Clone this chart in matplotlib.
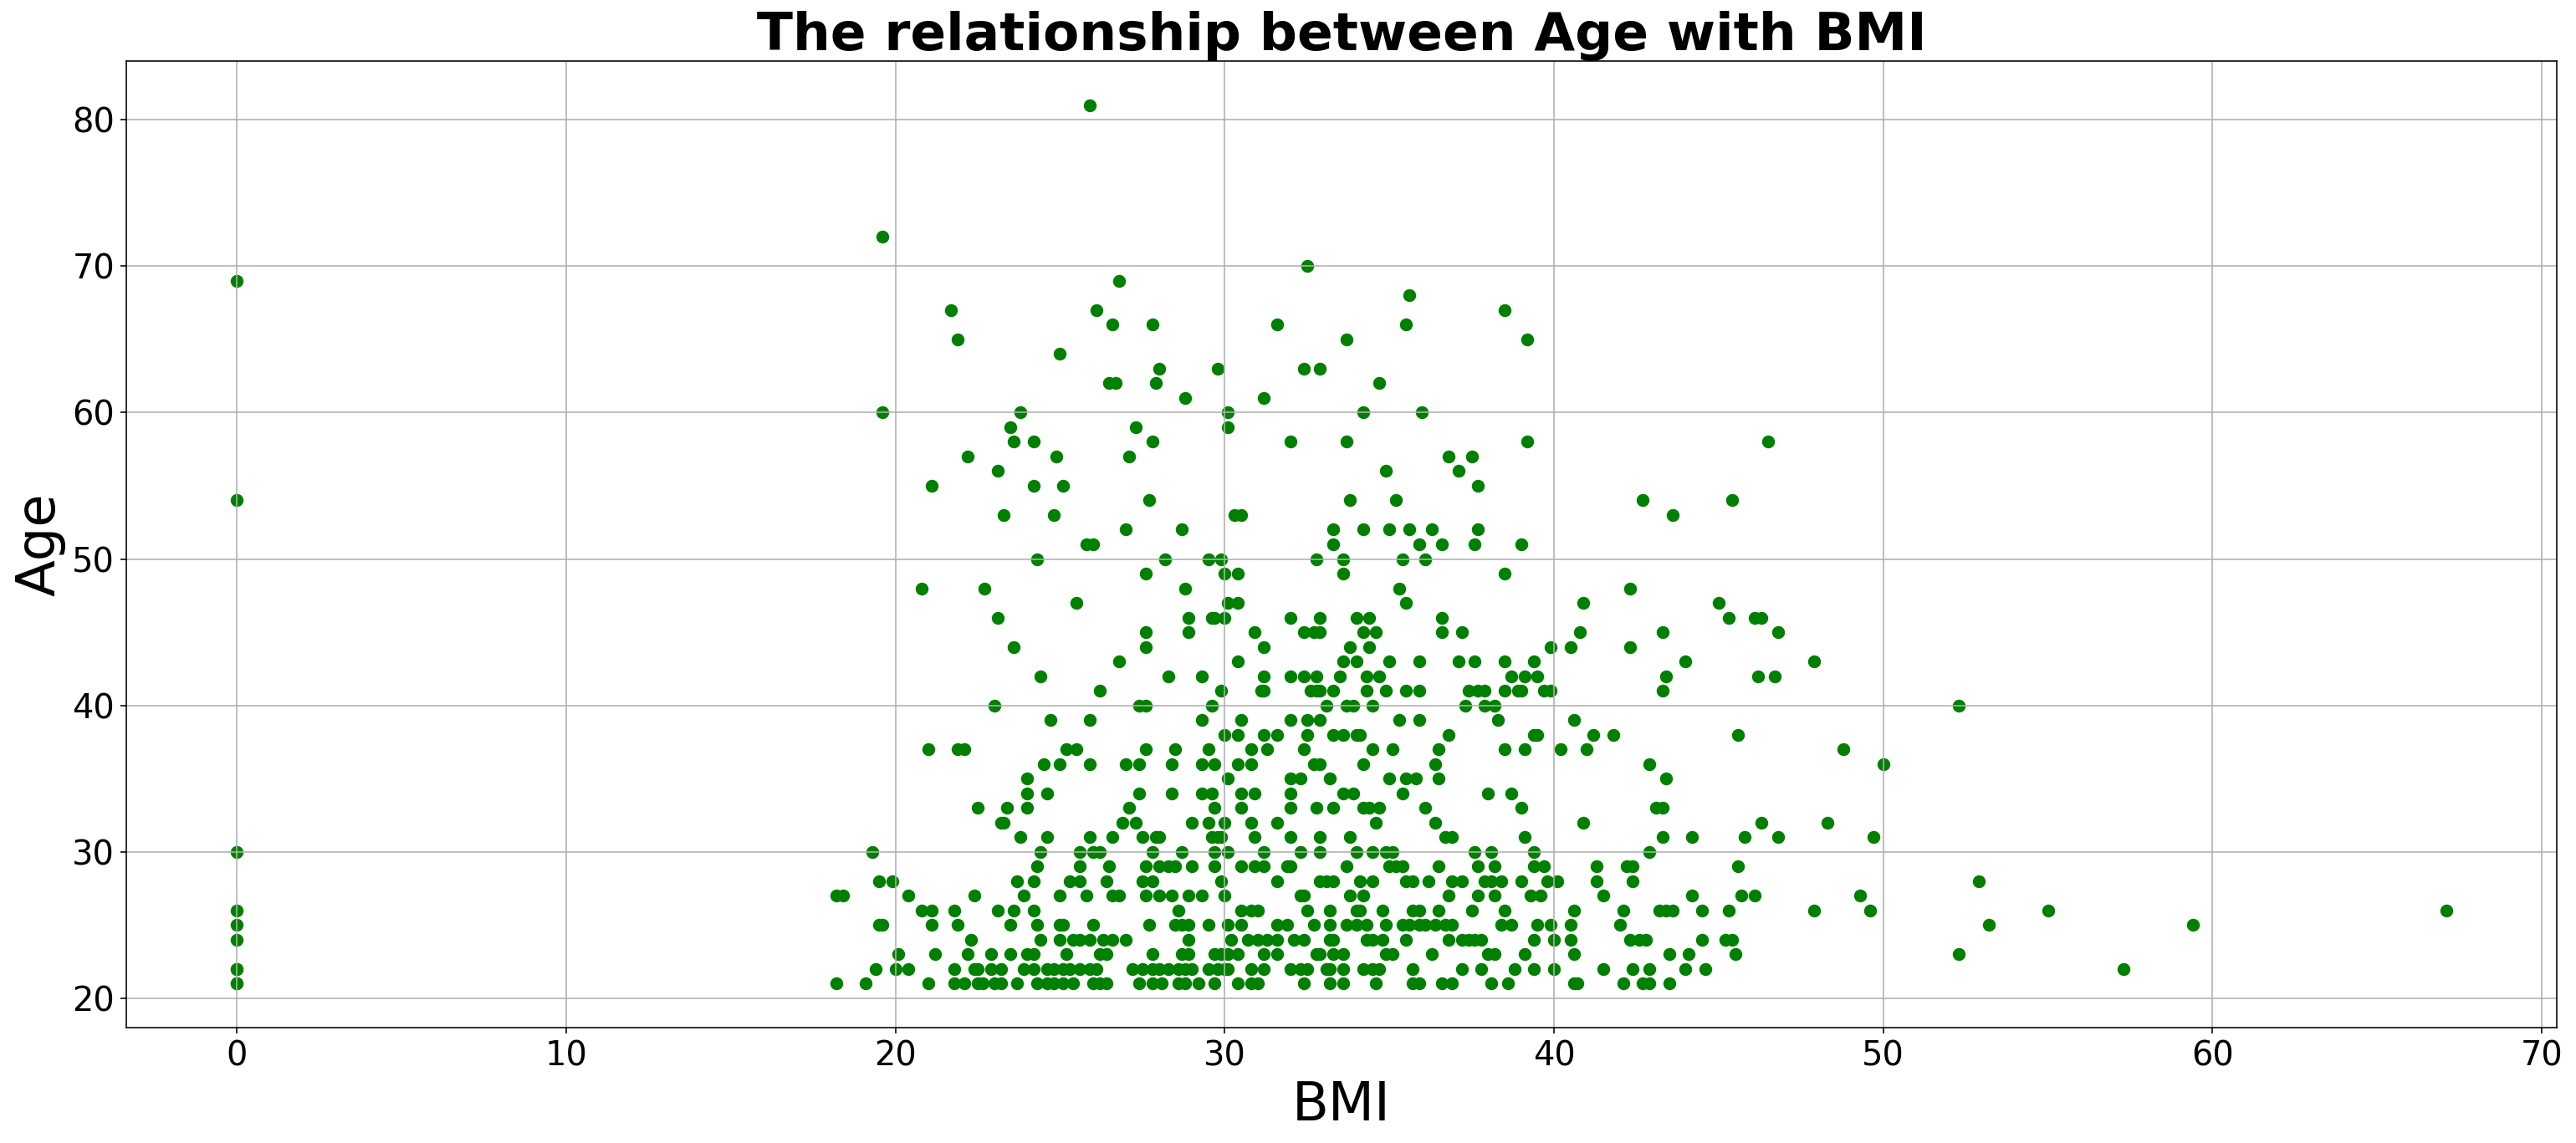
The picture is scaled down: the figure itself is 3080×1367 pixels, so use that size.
import matplotlib
matplotlib.use("Agg")
import matplotlib.pyplot as plt

# Age values (one per row) and the BMI values read for each age
ages = [21, 22, 23, 24, 25, 26, 27, 28, 29, 30,
        31, 32, 33, 34, 35, 36, 37, 38, 39, 40,
        41, 42, 43, 44, 45, 46, 47, 48, 49, 50,
        51, 52, 53, 54, 55, 56, 57, 58, 59, 60,
        61, 62, 63, 64, 65, 66, 67, 68, 69, 70,
        72, 81]

bmi_rows = [
    # 21
    [0.0, 0.0, 18.2, 19.1, 21.0, 21.8, 22.1, 22.5, 22.65, 23.0, 23.2, 23.7, 24.3, 24.6, 24.8, 25.1,
     25.4, 26.0, 26.2, 26.4, 27.4, 27.8, 28.1, 28.6, 28.8, 29.2, 29.7, 30.4, 30.8, 31.0, 32.4,
     33.2, 33.6, 34.6, 35.7, 35.9, 36.6, 36.9, 38.1, 38.6, 40.6, 40.7, 42.1, 42.7, 42.9, 43.5],
    # 22
    [0.0, 0.0, 19.4, 20.0, 20.4, 21.8, 22.4, 22.5, 22.9, 23.2, 23.9, 24.2, 24.6, 24.8, 25.1, 25.3,
     25.6, 25.9, 26.1, 27.2, 27.5, 27.8, 28.0, 28.3, 28.6, 28.8, 29.0, 29.5, 29.8, 30.0, 30.1,
     30.8, 31.2, 32.0, 32.3, 32.5, 33.1, 33.2, 33.6, 34.2, 34.5, 34.7, 35.7, 37.2, 37.8, 38.8,
     39.4, 40.0, 41.5, 42.4, 42.9, 44.0, 44.6, 57.3],
    # 23
    [20.1, 21.2, 22.2, 22.9, 23.5, 24.0, 24.2, 25.2, 26.2, 26.4, 27.8, 28.7, 28.9, 29.7, 29.9,
     30.1, 30.4, 31.2, 31.6, 32.8, 32.9, 33.3, 33.6, 34.9, 35.1, 36.3, 38.0, 38.2, 39.1, 40.6,
     43.5, 44.1, 45.5, 52.3],
    # 24
    [0.0, 22.3, 24.4, 25.0, 25.4, 25.6, 25.9, 26.3, 26.6, 27.0, 28.9, 30.2, 30.7, 31.0, 31.3,
     31.6, 32.1, 32.4, 33.2, 33.3, 34.3, 34.5, 34.8, 35.5, 36.8, 37.2, 37.4, 37.6, 37.8, 39.4,
     40.0, 40.5, 42.3, 42.6, 42.8, 44.5, 45.2, 45.4],
    # 25
    [0.0, 19.5, 19.6, 21.1, 21.9, 23.5, 24.3, 25.0, 25.1, 26.0, 27.7, 28.5, 28.7, 28.9, 29.5,
     30.1, 30.5, 31.6, 31.9, 32.7, 33.2, 33.7, 34.0, 34.3, 34.9, 35.4, 35.6, 35.9, 36.1, 36.4,
     36.7, 36.9, 38.4, 38.7, 39.5, 39.9, 40.5, 42.0, 53.2, 59.4],
    # 26
    [0.0, 20.8, 21.1, 21.8, 23.1, 23.6, 24.2, 28.6, 30.5, 30.8, 31.0, 32.5, 33.2, 34.0, 34.1,
     34.8, 35.7, 35.9, 36.5, 37.5, 38.5, 40.6, 42.1, 43.2, 43.4, 43.6, 44.5, 45.3, 47.9, 49.6,
     55.0, 67.1],
    # 27
    [18.2, 18.4, 20.4, 22.4, 23.9, 25.0, 25.8, 26.6, 26.8, 27.6, 28.0, 28.4, 28.9, 29.3, 30.0,
     32.3, 32.4, 33.8, 34.2, 36.8, 37.7, 38.2, 39.3, 39.6, 41.5, 44.2, 45.7, 46.1, 49.3],
    # 28
    [19.5, 19.9, 23.7, 24.2, 25.3, 25.6, 26.4, 27.5, 27.8, 29.9, 31.6, 32.9, 33.1, 33.3, 34.1,
     34.5, 35.5, 35.7, 36.2, 36.9, 37.2, 37.9, 38.1, 38.4, 39.0, 39.8, 40.1, 41.3, 42.4, 52.9],
    # 29
    [24.3, 25.6, 26.5, 27.6, 28.0, 28.3, 28.5, 29.0, 29.7, 30.5, 30.9, 31.2, 31.9, 32.0, 33.7,
     35.0, 35.2, 35.4, 36.5, 37.7, 38.2, 39.4, 39.7, 41.3, 42.2, 42.4, 45.6],
    # 30
    [0.0, 19.3, 24.4, 25.6, 26.0, 26.2, 27.8, 28.7, 29.7, 30.1, 31.2, 32.3, 32.9, 34.0, 34.5,
     34.9, 35.1, 37.6, 38.1, 39.4, 42.9],
    # 31
    [23.8, 24.6, 25.9, 26.6, 27.5, 27.9, 28.0, 29.6, 29.8, 29.9, 30.9, 32.0, 32.9, 33.8, 36.7,
     36.9, 39.1, 43.3, 44.2, 45.8, 46.8, 49.7],
    # 32
    [23.2, 23.3, 26.9, 27.3, 29.0, 29.5, 30.0, 30.8, 31.6, 34.6, 36.4, 40.9, 46.3, 48.3],
    # 33
    [22.5, 23.4, 24.0, 27.1, 29.7, 30.5, 32.0, 32.8, 33.3, 34.2, 34.4, 34.7, 36.1, 39.0, 43.1,
     43.3],
    # 34
    [24.0, 24.6, 27.4, 28.4, 29.3, 29.6, 30.5, 30.9, 32.0, 33.6, 33.9, 35.4, 38.0, 38.7],
    # 35
    [24.0, 30.1, 32.0, 32.3, 33.2, 35.0, 35.5, 35.8, 36.5, 43.4],
    # 36
    [24.5, 25.0, 25.9, 27.0, 27.4, 28.4, 29.3, 29.7, 30.4, 30.8, 32.7, 32.9, 34.2, 36.4, 42.9,
     50.0],
    # 37
    [21.0, 21.9, 22.1, 25.2, 25.5, 27.6, 28.5, 29.5, 30.8, 31.3, 32.4, 34.5, 35.1, 36.5, 38.5,
     39.1, 40.2, 41.0, 48.8],
    # 38
    [30.0, 30.4, 31.2, 31.6, 32.5, 33.3, 33.6, 34.0, 34.1, 36.8, 39.4, 39.5, 41.2, 41.8, 45.6],
    # 39
    [24.7, 25.9, 29.3, 30.5, 32.0, 32.5, 32.9, 35.3, 35.9, 38.3, 40.6],
    # 40
    [23.0, 27.4, 27.6, 29.6, 33.1, 33.7, 33.9, 34.5, 37.3, 37.9, 38.2, 52.3],
    # 41
    [26.2, 29.9, 31.1, 31.2, 32.6, 32.8, 32.9, 33.3, 34.3, 34.9, 35.5, 35.9, 37.4, 37.7, 37.9,
     38.5, 38.9, 39.0, 39.7, 39.9, 43.3],
    # 42
    [24.4, 28.3, 29.3, 31.2, 32.0, 32.4, 32.8, 33.5, 34.3, 34.7, 38.7, 39.1, 39.5, 43.4, 46.2,
     46.7],
    # 43
    [26.8, 30.4, 33.6, 34.0, 35.0, 35.9, 37.1, 37.6, 38.5, 39.4, 44.0, 47.9],
    # 44
    [23.6, 27.6, 31.2, 33.8, 34.4, 39.9, 40.5, 42.3],
    # 45
    [27.6, 28.9, 30.9, 32.4, 32.7, 32.9, 34.2, 34.6, 36.6, 37.2, 40.8, 43.3, 46.8],
    # 46
    [23.1, 28.9, 29.6, 29.7, 30.0, 32.0, 32.9, 34.0, 34.4, 36.6, 45.3, 46.1, 46.3],
    # 47
    [25.5, 30.1, 30.4, 35.5, 40.9, 45.0],
    # 48
    [20.8, 22.7, 28.8, 35.3, 42.3],
    # 49
    [27.6, 30.0, 30.4, 33.6, 38.5],
    # 50
    [24.3, 28.2, 29.5, 29.9, 32.8, 33.6, 35.4, 36.1],
    # 51
    [25.8, 26.0, 33.3, 35.9, 36.6, 37.6, 39.0],
    # 52
    [27.0, 28.7, 33.3, 34.2, 35.0, 35.6, 36.3, 37.7],
    # 53
    [23.3, 24.8, 30.3, 30.5, 43.6],
    # 54
    [0.0, 27.7, 33.8, 35.2, 42.7, 45.4],
    # 55
    [21.1, 24.2, 25.1, 37.7],
    # 56
    [23.1, 34.9, 37.1],
    # 57
    [22.2, 24.9, 27.1, 36.8, 37.5],
    # 58
    [23.6, 24.2, 27.8, 32.0, 33.7, 39.2, 46.5],
    # 59
    [23.5, 27.3, 30.1],
    # 60
    [19.6, 23.8, 30.1, 34.2, 36.0],
    # 61
    [28.8, 31.2],
    # 62
    [26.5, 26.7, 27.9, 34.7],
    # 63
    [28.0, 29.8, 32.4, 32.9],
    # 64
    [25.0],
    # 65
    [21.9, 33.7, 39.2],
    # 66
    [26.6, 27.8, 31.6, 35.5],
    # 67
    [21.7, 26.1, 38.5],
    # 68
    [35.6],
    # 69
    [0.0, 26.8],
    # 70
    [32.5],
    # 72
    [19.6],
    # 81
    [25.9],
]

bmi = []
age = []
for a, row in zip(ages, bmi_rows):
    bmi.extend(row)
    age.extend([a] * len(row))

fig = plt.figure(figsize=(3080 / 144, 1367 / 144), dpi=144)
ax = fig.add_axes([0.04903, 0.10095, 0.94351, 0.84565])
ax.scatter(bmi, age, color='green', s=45)
ax.grid(True)
ax.set_title('The relationship between Age with BMI', fontsize=31.5, fontweight='bold')
ax.set_xlabel('BMI', fontsize=32)
ax.set_ylabel('Age', fontsize=32)
ax.tick_params(labelsize=20)
fig.savefig('out.png', dpi=144)
